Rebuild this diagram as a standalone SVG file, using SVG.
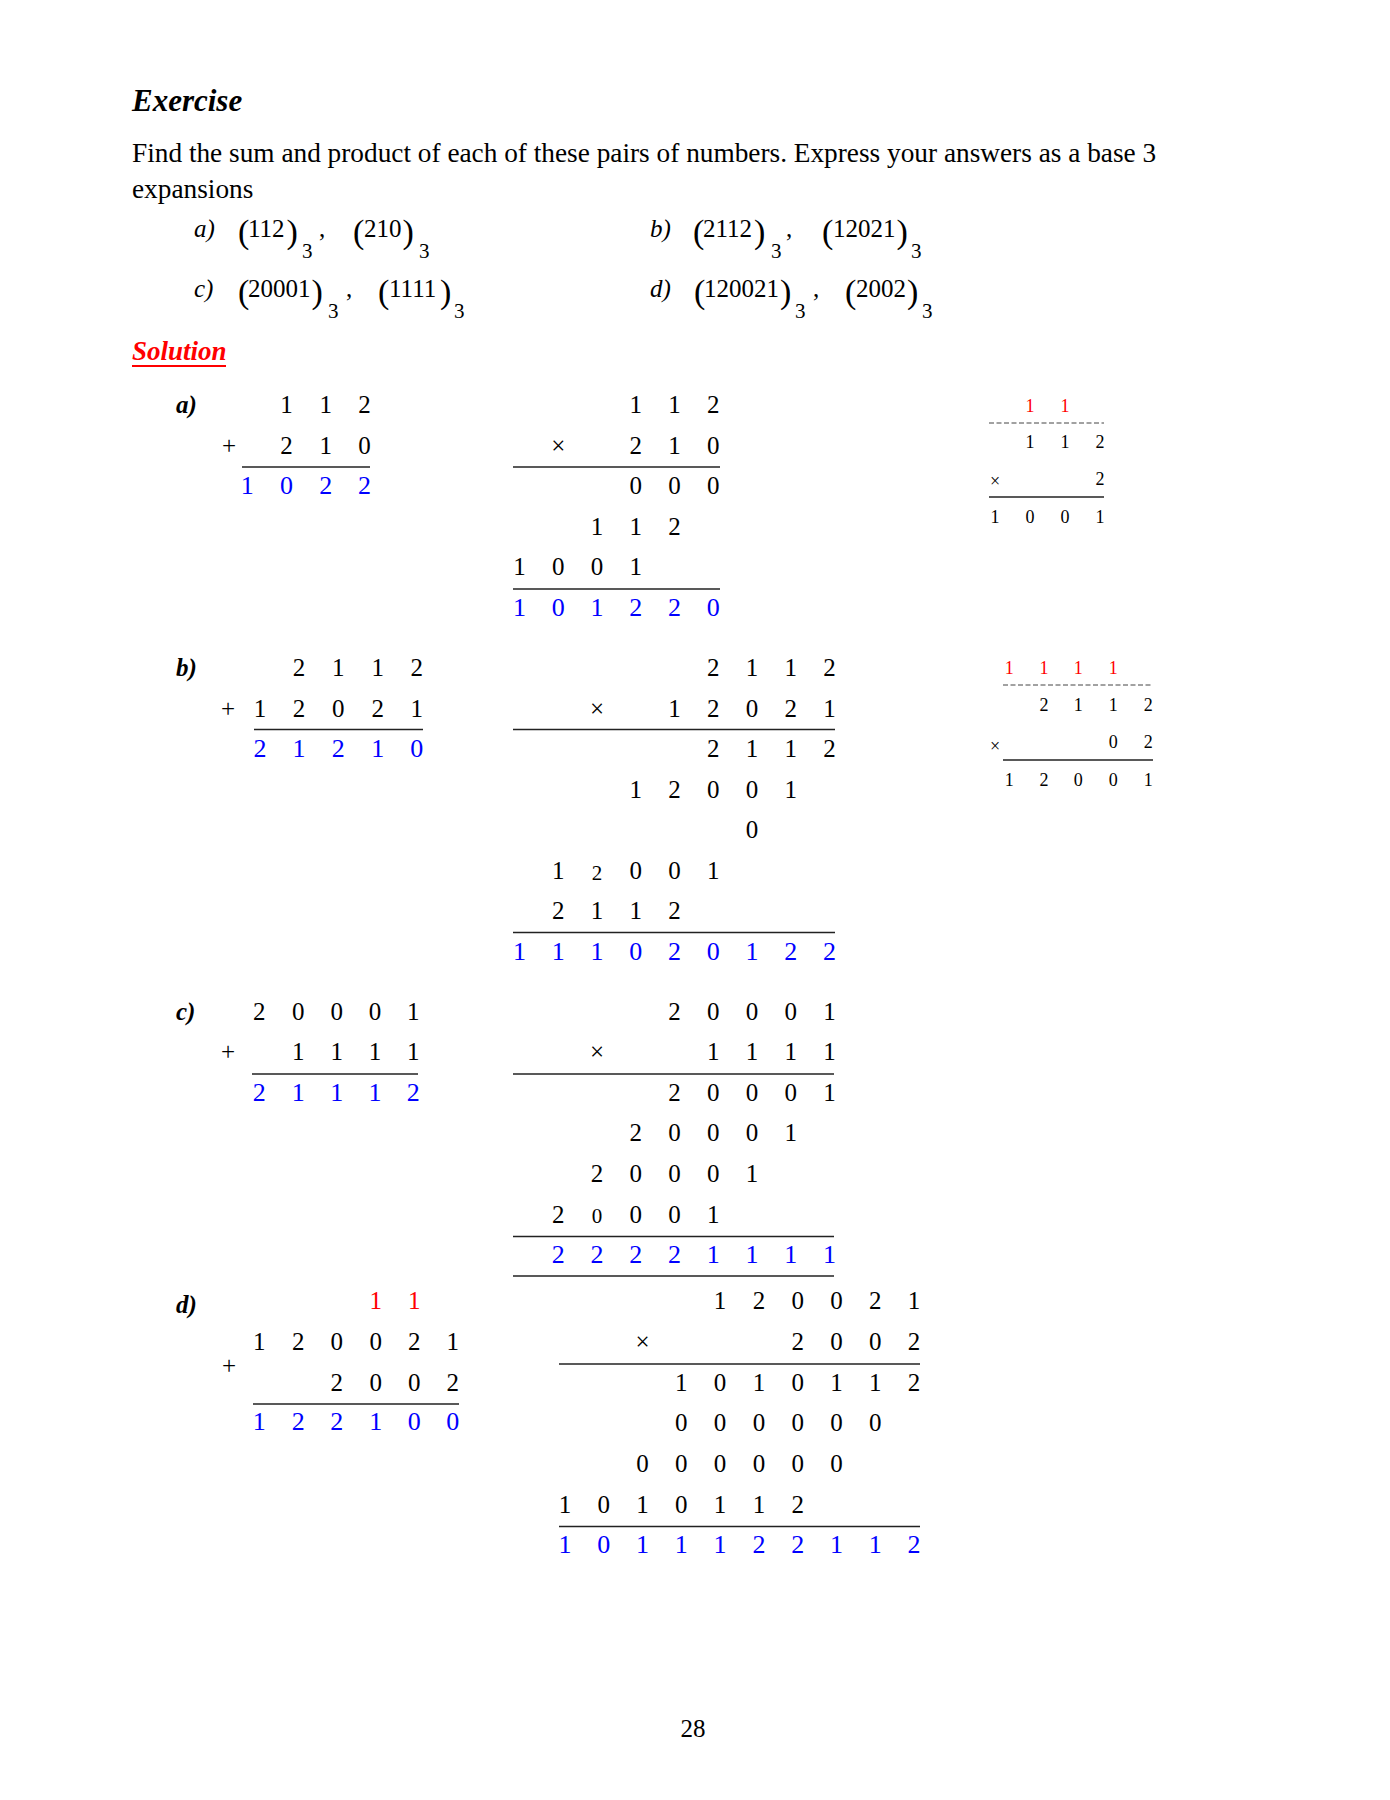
<svg xmlns="http://www.w3.org/2000/svg" width="1390" height="1800" viewBox="0 0 1390 1800">
<style>
text{font-family:"Liberation Serif","Times New Roman",serif;fill:#000}
.h{font-size:31px;font-weight:bold;font-style:italic}
.p{font-size:27.3px}
.it{font-size:25px;font-style:italic}
.q{font-size:25px}
.pr{font-size:34px}
.sb{font-size:21px}
.lb{font-size:25px;font-weight:bold;font-style:italic}
.n{font-size:25px;text-anchor:middle}
.b{font-size:26px;text-anchor:middle;fill:#0000ff}
.r{fill:#ff0000}
.s{font-size:18px;text-anchor:middle}
.sm{font-size:21px}
.ln{stroke:#222;stroke-width:1.4}
.ds{stroke:#444;stroke-width:1;stroke-dasharray:5 2.5}
</style>
<rect width="1390" height="1800" fill="#fff"/>
<g id="header">
<text class="h" x="132" y="111">Exercise</text>
<text class="p" x="132" y="162">Find the sum and product of each of these pairs of numbers. Express your answers as a base 3</text>
<text class="p" x="132" y="198">expansions</text>
</g>
<g id="items">
<text class="it" x="194" y="237">a)</text>
<text class="pr" x="238" y="243">(</text><text class="q" x="248" y="237">112</text><text class="pr" x="286.5" y="243">)</text><text class="sb" x="302" y="258">3</text><text class="q" x="319" y="237">,</text>
<text class="pr" x="353" y="243">(</text><text class="q" x="364" y="237">210</text><text class="pr" x="402.5" y="243">)</text><text class="sb" x="419" y="258">3</text>
<text class="it" x="194" y="297">c)</text>
<text class="pr" x="238" y="303">(</text><text class="q" x="248" y="297">20001</text><text class="pr" x="311.5" y="303">)</text><text class="sb" x="328" y="318">3</text><text class="q" x="346" y="297">,</text>
<text class="pr" x="378" y="303">(</text><text class="q" x="389" y="297">1111</text><text class="pr" x="440" y="303">)</text><text class="sb" x="454" y="318">3</text>
<text class="it" x="650" y="237">b)</text>
<text class="pr" x="693" y="243">(</text><text class="q" x="703" y="237">2112</text><text class="pr" x="754" y="243">)</text><text class="sb" x="771" y="258">3</text><text class="q" x="786" y="237">,</text>
<text class="pr" x="822" y="243">(</text><text class="q" x="833" y="237">12021</text><text class="pr" x="896.5" y="243">)</text><text class="sb" x="911" y="258">3</text>
<text class="it" x="650" y="297">d)</text>
<text class="pr" x="694" y="303">(</text><text class="q" x="704" y="297">120021</text><text class="pr" x="780" y="303">)</text><text class="sb" x="795" y="318">3</text><text class="q" x="813" y="297">,</text>
<text class="pr" x="845" y="303">(</text><text class="q" x="856" y="297">2002</text><text class="pr" x="907" y="303">)</text><text class="sb" x="922" y="318">3</text>
</g>
<g id="solution-title">
<text x="132" y="360" style="font-size:27px;font-weight:bold;font-style:italic;fill:#ff0000">Solution</text>
<line x1="132" y1="366" x2="226" y2="366" stroke="#ff0000" stroke-width="2"/>
</g>
<g id="connectors">
<line class="ln" x1="242" y1="467" x2="370" y2="467"/>
<line class="ln" x1="513" y1="467" x2="720" y2="467"/>
<line class="ln" x1="513" y1="589" x2="720" y2="589"/>
<line class="ds" x1="989" y1="423" x2="1104" y2="423"/>
<line class="ln" x1="989" y1="497" x2="1104" y2="497"/>
<line class="ln" x1="254" y1="729.5" x2="423" y2="729.5"/>
<line class="ln" x1="513" y1="729.5" x2="835" y2="729.5"/>
<line class="ln" x1="513" y1="932.5" x2="835" y2="932.5"/>
<line class="ds" x1="1003" y1="685" x2="1153" y2="685"/>
<line class="ln" x1="1003" y1="760" x2="1153" y2="760"/>
<line class="ln" x1="252" y1="1074" x2="418" y2="1074"/>
<line class="ln" x1="513" y1="1074" x2="834" y2="1074"/>
<line class="ln" x1="513" y1="1236.5" x2="834" y2="1236.5"/>
<line class="ln" x1="513" y1="1276" x2="834" y2="1276"/>
<line class="ln" x1="253" y1="1404" x2="459" y2="1404"/>
<line class="ln" x1="559" y1="1364" x2="920" y2="1364"/>
<line class="ln" x1="559" y1="1526.5" x2="920" y2="1526.5"/>
</g>
<g id="part-a">
<text class="lb" x="176" y="413">a)</text>
<text class="n" x="286.4 325.8 364.5" y="413">112</text>
<text class="n" x="229" y="453.6">+</text>
<text class="n" x="286.4 325.8 364.5" y="453.6">210</text>
<text class="b" x="247.3 286.4 325.8 364.5" y="493.5">1022</text>
<text class="n" x="635.75 674.5 713.25" y="413">112</text>
<text class="n" x="558.25" y="453.6">×</text>
<text class="n" x="635.75 674.5 713.25" y="453.6">210</text>
<text class="n" x="635.75 674.5 713.25" y="494">000</text>
<text class="n" x="597 635.75 674.5" y="534.6">112</text>
<text class="n" x="519.5 558.25 597 635.75" y="575">1001</text>
<text class="b" x="519.5 558.25 597 635.75 674.5 713.25" y="616">101220</text>
<text class="s r" x="1030 1065" y="412">11</text>
<text class="s" x="1030 1065 1100" y="448">112</text>
<text class="s" x="995" y="487">×</text>
<text class="s" x="1100" y="485">2</text>
<text class="s" x="995 1030 1065 1100" y="523">1001</text>
</g>
<g id="part-b">
<text class="lb" x="176" y="676">b)</text>
<text class="n" x="299 338.3 377.7 416.7" y="676">2112</text>
<text class="n" x="228" y="716.7">+</text>
<text class="n" x="260 299 338.3 377.7 416.7" y="716.7">12021</text>
<text class="b" x="260 299 338.3 377.7 416.7" y="757">21210</text>
<text class="n" x="713.25 752 790.75 829.5" y="676">2112</text>
<text class="n" x="597" y="716.7">×</text>
<text class="n" x="674.5 713.25 752 790.75 829.5" y="716.7">12021</text>
<text class="n" x="713.25 752 790.75 829.5" y="757">2112</text>
<text class="n" x="635.75 674.5 713.25 752 790.75" y="797.5">12001</text>
<text class="n" x="752" y="838">0</text>
<text class="n" x="558.25" y="878.5">1</text><text class="n sm" x="597" y="879.5">2</text><text class="n" x="635.75 674.5 713.25" y="878.5">001</text>
<text class="n" x="558.25 597 635.75 674.5" y="919">2112</text>
<text class="b" x="519.5 558.25 597 635.75 674.5 713.25 752 790.75 829.5" y="959.7">111020122</text>
<text class="s r" x="1009.3 1044 1078.3 1113.3" y="674.3">1111</text>
<text class="s" x="1044 1078.3 1113.3 1148.3" y="710.7">2112</text>
<text class="s" x="995" y="752">×</text>
<text class="s" x="1113.3 1148.3" y="748.3">02</text>
<text class="s" x="1009.3 1044 1078.3 1113.3 1148.3" y="785.7">12001</text>
</g>
<g id="part-c">
<text class="lb" x="176" y="1019.5">c)</text>
<text class="n" x="259.3 298.3 336.7 375 413.3" y="1019.5">20001</text>
<text class="n" x="228" y="1060">+</text>
<text class="n" x="298.3 336.7 375 413.3" y="1060">1111</text>
<text class="b" x="259.3 298.3 336.7 375 413.3" y="1100.7">21112</text>
<text class="n" x="674.5 713.25 752 790.75 829.5" y="1019.5">20001</text>
<text class="n" x="597" y="1060">×</text>
<text class="n" x="713.25 752 790.75 829.5" y="1060">1111</text>
<text class="n" x="674.5 713.25 752 790.75 829.5" y="1100.7">20001</text>
<text class="n" x="635.75 674.5 713.25 752 790.75" y="1141.3">20001</text>
<text class="n" x="597 635.75 674.5 713.25 752" y="1182">20001</text>
<text class="n" x="558.25" y="1222.6">2</text><text class="n sm" x="597" y="1222.6">0</text><text class="n" x="635.75 674.5 713.25" y="1222.6">001</text>
<text class="b" x="558.25 597 635.75 674.5 713.25 752 790.75 829.5" y="1263">22221111</text>
</g>
<g id="part-d">
<text class="lb" x="176" y="1313">d)</text>
<text class="n r" x="375.7 414.3" y="1309.3">11</text>
<text class="n" x="259.3 298.3 336.7 375.7 414.3 452.7" y="1350">120021</text>
<text class="n" x="229" y="1374">+</text>
<text class="n" x="336.7 375.7 414.3 452.7" y="1390.7">2002</text>
<text class="b" x="259.3 298.3 336.7 375.7 414.3 452.7" y="1430">122100</text>
<text class="n" x="720.1 758.9 797.7 836.5 875.2 914" y="1309.3">120021</text>
<text class="n" x="642.6" y="1350">×</text>
<text class="n" x="797.7 836.5 875.2 914" y="1350">2002</text>
<text class="n" x="681.3 720.1 758.9 797.7 836.5 875.2 914" y="1390.7">1010112</text>
<text class="n" x="681.3 720.1 758.9 797.7 836.5 875.2" y="1431.3">000000</text>
<text class="n" x="642.6 681.3 720.1 758.9 797.7 836.5" y="1472">000000</text>
<text class="n" x="565 603.8 642.6 681.3 720.1 758.9 797.7" y="1512.6">1010112</text>
<text class="b" x="565 603.8 642.6 681.3 720.1 758.9 797.7 836.5 875.2 914" y="1553">1011122112</text>
</g>
<g id="page-number">
<text class="q" x="693" y="1737" text-anchor="middle">28</text>
</g>
</svg>
